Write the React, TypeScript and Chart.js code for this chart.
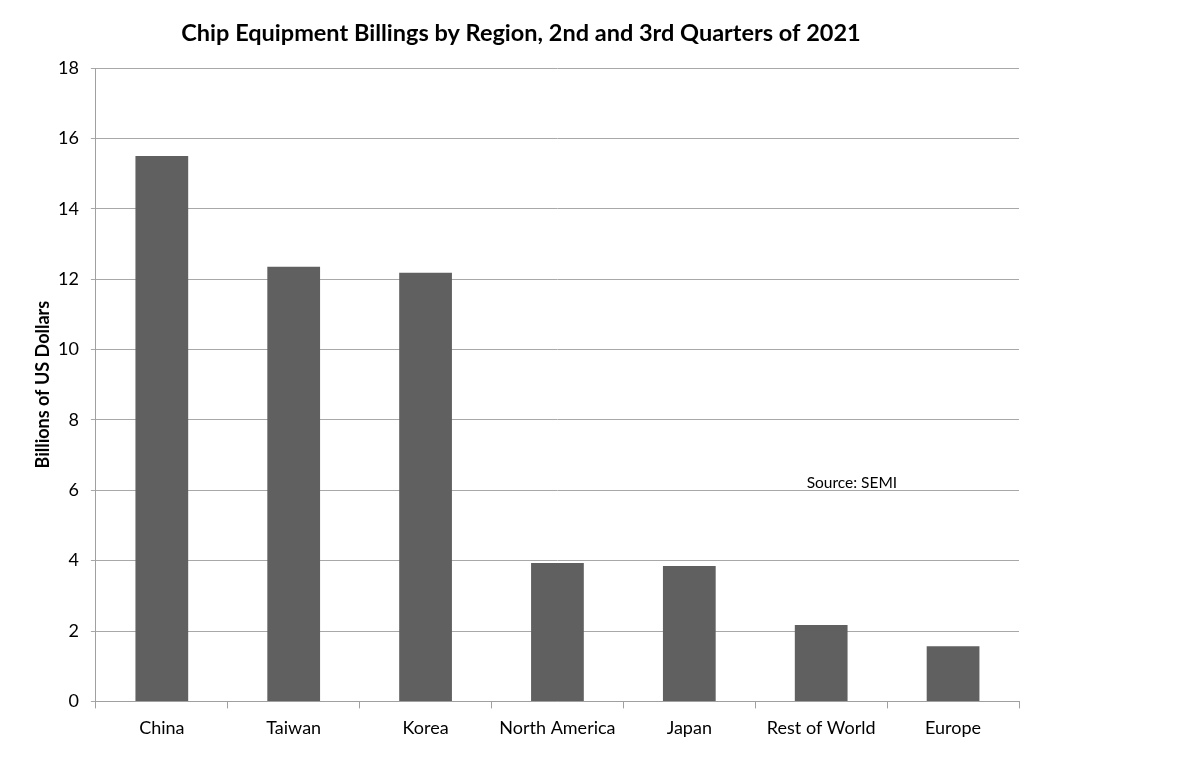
import React, { useEffect, useRef } from "react";
import { Chart, registerables } from "chart.js";

Chart.register(...registerables);

const categories = ["China", "Taiwan", "Korea", "North America", "Japan", "Rest of World", "Europe"];
const billings = [15.5, 12.35, 12.18, 3.93, 3.85, 2.17, 1.57];
const yTicks = [0, 2, 4, 6, 8, 10, 12, 14, 16, 18];
const titleText = "Chip Equipment Billings by Region, 2nd and 3rd Quarters of 2021";
const yAxisTitle = "Billions of US Dollars";
const sourceNote = "Source: SEMI";

const FONT = "Lato, 'Open Sans', sans-serif";

export default function App() {
  const ref = useRef<HTMLCanvasElement | null>(null);

  useEffect(() => {
    document.body.style.margin = "0";
    const overlay = {
      id: "overlay",
      afterDraw(chart: any) {
        const ctx = chart.ctx;
        const x = chart.scales.x;
        const y = chart.scales.y;
        const area = chart.chartArea;
        ctx.save();
        ctx.fillStyle = "#000";
        ctx.font = `bold 23.5px ${FONT}`;
        ctx.textAlign = "center";
        ctx.textBaseline = "middle";
        ctx.fillText(titleText, 521, 33);
        ctx.font = `15.5px ${FONT}`;
        ctx.textAlign = "left";
        ctx.fillText(sourceNote, x.getPixelForValue(4.89), y.getPixelForValue(6.2));
        ctx.translate(43, (area.top + area.bottom) / 2);
        ctx.rotate(-Math.PI / 2);
        ctx.textAlign = "center";
        ctx.font = `bold 18px ${FONT}`;
        ctx.fillText(yAxisTitle, 0, 0);
        ctx.restore();
      },
    };
    const chart = new Chart(ref.current!, {
      type: "bar",
      data: {
        labels: categories,
        datasets: [
          {
            data: billings,
            backgroundColor: "#606060",
            barPercentage: 0.4,
            categoryPercentage: 1,
          },
        ],
      },
      options: {
        animation: false,
        responsive: false,
        layout: { padding: { left: 46, right: 173, top: 68, bottom: 14 } },
        plugins: { legend: { display: false }, tooltip: { enabled: false }, title: { display: false } },
        scales: {
          x: {
            grid: { offset: true, drawOnChartArea: false, color: "#a0a0a0", tickLength: 7 },
            border: { color: "#a0a0a0" },
            ticks: { color: "#000", font: { family: FONT, size: 18 }, padding: 9 },
          },
          y: {
            min: 0,
            max: 18,
            afterBuildTicks: (axis: any) => {
              axis.ticks = yTicks.map((v) => ({ value: v }));
            },
            grid: { color: "#a8a8a8", tickLength: 5 },
            border: { color: "#a0a0a0" },
            ticks: { color: "#000", font: { family: FONT, size: 18 }, padding: 12 },
          },
        },
      },
      plugins: [overlay],
    });
    return () => chart.destroy();
  }, []);

  return (
    <div style={{ width: 1192, height: 762, background: "#fff" }}>
      <canvas ref={ref} width={1192} height={762} style={{ width: 1192, height: 762 }} />
    </div>
  );
}
